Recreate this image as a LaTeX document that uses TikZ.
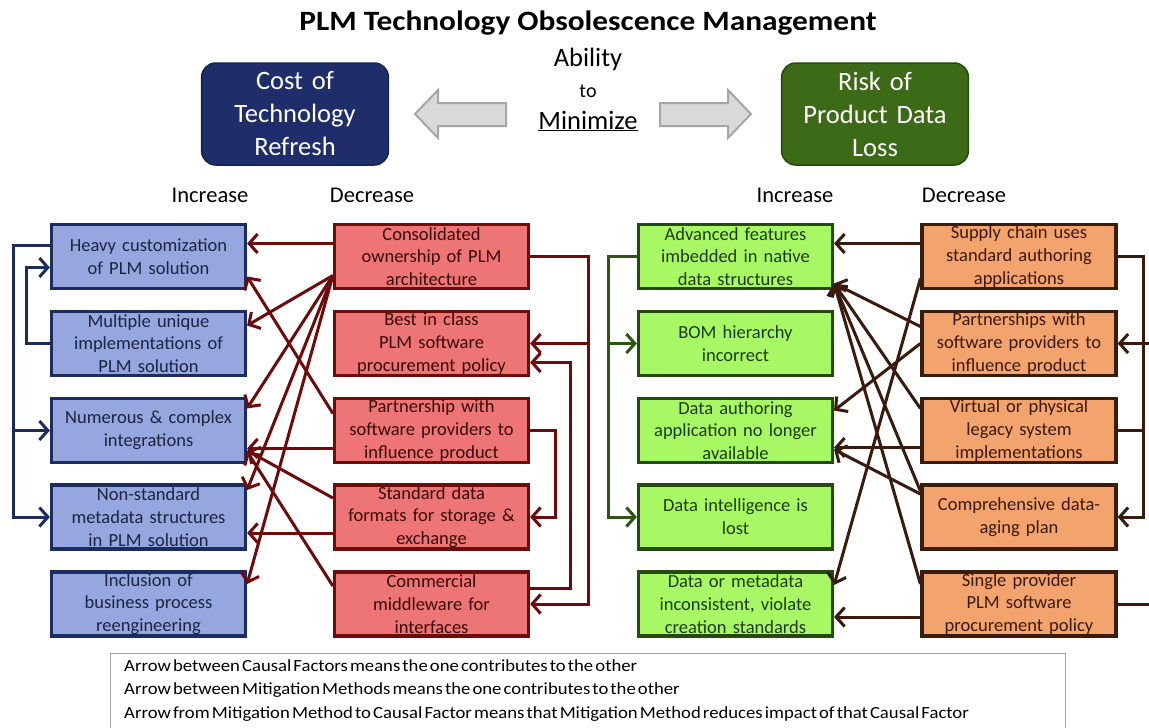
\documentclass[tikz,border=0pt]{standalone}
\usepackage{fontspec}
\setmainfont{Carlito}
\newfontfamily\legendfont[WordSpace=0.5]{Carlito}
\usetikzlibrary{arrows.meta,calc}

\definecolor{navyFill}{HTML}{1F2D6B}
\definecolor{navyEdge}{HTML}{17214F}
\definecolor{oliveFill}{HTML}{3C6A16}
\definecolor{oliveEdge}{HTML}{284A0E}
\definecolor{blueFill}{HTML}{96A7DF}
\definecolor{blueEdge}{HTML}{1C2C5E}
\definecolor{blueText}{HTML}{1C2440}
\definecolor{redFill}{HTML}{EE7575}
\definecolor{redEdge}{HTML}{6E0B0B}
\definecolor{redText}{HTML}{3A0808}
\definecolor{limeFill}{HTML}{A8F865}
\definecolor{limeEdge}{HTML}{244A10}
\definecolor{limeText}{HTML}{1E3A0A}
\definecolor{orangeFill}{HTML}{F3A36E}
\definecolor{orangeEdge}{HTML}{3A1C0C}
\definecolor{orangeText}{HTML}{3A1A0A}
\definecolor{maroon}{HTML}{6E0A0A}
\definecolor{brown}{HTML}{3A1A0C}
\definecolor{blueLoop}{HTML}{1C2C5E}
\definecolor{greenLoop}{HTML}{2C5614}
\definecolor{blockFill}{HTML}{D9D9D9}
\definecolor{blockEdge}{HTML}{A6A6A6}

\begin{document}
\begin{tikzpicture}[x=1pt,y=-1pt,
  factor/.style={draw, line width=3.2pt, minimum width=194pt, minimum height=64pt,
    text width=192pt, align=center, inner sep=0pt,
    font=\fontsize{18.5}{22.8}\selectfont},
  cause/.style={factor, fill=blueFill, draw=blueEdge, text=blueText},
  remedy/.style={factor, fill=redFill, draw=redEdge, text=redText},
  risk/.style={factor, fill=limeFill, draw=limeEdge, text=limeText},
  guard/.style={factor, fill=orangeFill, draw=orangeEdge, text=orangeText},
  headbox/.style={rounded corners=14pt, line width=1.5pt, minimum width=186pt,
    minimum height=102pt, text width=180pt, align=center, text=white,
    font=\fontsize{26.5}{33}\selectfont},
  tipstyle/.tip={Straight Barb[length=8.5pt,width=19pt]},
  link/.style={line width=3pt, -{tipstyle}},
  plain/.style={line width=3pt},
  colhead/.style={font=\fontsize{22.5}{26}\selectfont},
  block/.style={fill=blockFill, draw=blockEdge, line width=2pt, line join=miter}
]
\useasboundingbox (0,0) rectangle (1149,728);

% ---------- title and header boxes ----------
\node[font=\bfseries\fontsize{28}{32}\selectfont] (title) at (588,23)
  {\scalebox{1.12}[1]{PLM Technology Obsolescence Management}};
\node[headbox, fill=navyFill, draw=navyEdge] (cost) at (295,114)
  {Cost of\\Technology\\Refresh};
\node[headbox, fill=oliveFill, draw=oliveEdge] (risk) at (875,114)
  {Risk of\\Product Data\\Loss};
\node[font=\fontsize{26.5}{30}\selectfont] (ability) at (588,59) {Ability};
\node[font=\fontsize{20}{24}\selectfont] (to) at (588,91) {to};
\node[font=\fontsize{26.5}{30}\selectfont] (minimize) at (588,121) {\underline{Minimize}};

% block arrows pointing at the two header boxes
\draw[block] (415,114) -- (438,90) -- (438,103) -- (506,103) -- (506,126)
  -- (438,126) -- (438,138) -- cycle;
\draw[block] (751,114) -- (728,90) -- (728,103) -- (660,103) -- (660,126)
  -- (728,126) -- (728,138) -- cycle;

% column headings
\node[colhead] (incL) at (210,195) {Increase};
\node[colhead] (decL) at (372,195) {Decrease};
\node[colhead] (incR) at (795,195) {Increase};
\node[colhead] (decR) at (964,195) {Decrease};

% ---------- causal factors: cost of technology refresh ----------
\node[cause] (b1) at (148.5,256.5) {Heavy customization\\of PLM solution};
\node[cause] (b2) at (148.5,343.5) {Multiple unique\\implementations of\\PLM solution};
\node[cause] (b3) at (148.5,430.5) {Numerous \& complex\\integrations};
\node[cause] (b4) at (148.5,517) {Non-standard\\metadata structures\\in PLM solution};
\node[cause] (b5) at (148.5,604) {Inclusion of\\business process\\reengineering};

% ---------- mitigation methods: cost of technology refresh ----------
\node[remedy] (r1) at (431.5,256.5) {Consolidated\\ownership of PLM\\architecture};
\node[remedy] (r2) at (431.5,343.5) {Best in class\\PLM software\\procurement policy};
\node[remedy] (r3) at (431.5,430.5) {Partnership with\\software providers to\\influence product};
\node[remedy] (r4) at (431.5,517) {Standard data\\formats for storage \&\\exchange};
\node[remedy] (r5) at (431.5,604) {Commercial\\middleware for\\interfaces};

% ---------- causal factors: risk of product data loss ----------
\node[risk] (g1) at (735.5,256.5) {Advanced features\\imbedded in native\\data structures};
\node[risk] (g2) at (735.5,343.5) {BOM hierarchy\\incorrect};
\node[risk] (g3) at (735.5,430.5) {Data authoring\\application no longer\\available};
\node[risk] (g4) at (735.5,517) {Data intelligence is\\lost};
\node[risk] (g5) at (735.5,604) {Data or metadata\\inconsistent, violate\\creation standards};

% ---------- mitigation methods: risk of product data loss ----------
\node[guard] (o1) at (1019,256.5) {Supply chain uses\\standard authoring\\applications};
\node[guard] (o2) at (1019,343.5) {Partnerships with\\software providers to\\influence product};
\node[guard] (o3) at (1019,430.5) {Virtual or physical\\legacy system\\implementations};
\node[guard] (o4) at (1019,517) {Comprehensive data-\\aging plan};
\node[guard] (o5) at (1019,604) {Single provider\\PLM software\\procurement policy};

% ---------- bus lines for the side loops ----------
\coordinate (bbusA) at (13,0);
\coordinate (bbusB) at (26,0);
\coordinate (rbusA) at (588,0);
\coordinate (rbusB) at (570,0);
\coordinate (rbusC) at (555,0);
\coordinate (gbus)  at (608,0);
\coordinate (obusA) at (1143,0);
\coordinate (obusB) at (1157,0);

% causal factors feeding each other (blue)
\begin{scope}[color=blueLoop]
  \coordinate (b1out) at ($(b1.west)+(0,-11)$);
  \coordinate (b1in)  at ($(b1.west)+(0,11)$);
  \draw[link] (b1out) -| (bbusA |- b4.west) -- (b4.west);
  \draw[link] (bbusA |- b3.west) -- (b3.west);
  \draw[link] (b2.west) -| (bbusB |- b1in) -- (b1in);
\end{scope}

% mitigation methods feeding each other (maroon)
\begin{scope}[color=maroon]
  \coordinate (r2in) at ($(r2.east)+(0,19)$);
  \coordinate (r5out) at ($(r5.east)+(0,-16)$);
  \draw[link] (r1.east) -| (rbusA |- r5.east) -- (r5.east);
  \draw[link] (rbusA |- r2.east) -- (r2.east);
  \draw[link] (r5out) -| (rbusB |- r2in) -- (r2in);
  \draw[link] (r3.east) -| (rbusC |- r4.east) -- (r4.east);
\end{scope}

% mitigation methods acting on causal factors (maroon)
\begin{scope}[color=maroon]
  \coordinate (r1fan) at ($(r1.west)+(0,19)$);
  \draw[link] ($(r1.west)+(0,-13)$) -- ($(b1.east)+(0,-13)$);
  \draw[link] (r1fan) -- ($(b2.east)+(0,-18)$);
  \draw[link] (r1fan) -- ($(b3.east)+(0,-22)$);
  \draw[link] (r1fan) -- ($(b4.east)+(0,-27)$);
  \draw[link] (r1fan) -- ($(b5.east)+(0,-20)$);
  \draw[link] ($(r3.west)+(0,-17)$) -- ($(b1.east)+(0,20)$);
  \draw[link] ($(r3.west)+(0,18)$) -- ($(b3.east)+(0,18)$);
  \draw[link] ($(r4.west)+(0,-19)$) -- ($(b3.east)+(0,20)$);
  \draw[link] ($(r5.west)+(0,-18)$) -- ($(b3.east)+(0,21)$);
  \draw[link] ($(r4.west)+(0,16)$) -- ($(b4.east)+(0,16)$);
\end{scope}

% causal factors feeding each other (green)
\begin{scope}[color=greenLoop]
  \draw[link] (g1.west) -| (gbus |- g4.west) -- (g4.west);
  \draw[link] (gbus |- g2.west) -- (g2.west);
\end{scope}

% mitigation methods feeding each other (brown)
\begin{scope}[color=brown]
  \draw[link] (o1.east) -| (obusA |- o4.east) -- (o4.east);
  \draw[plain] (o3.east) -- (obusA |- o3.east);
  \draw[link] (o5.east) -| (obusB |- o2.east) -- (o2.east);
\end{scope}

% mitigation methods acting on causal factors (brown)
\begin{scope}[color=brown]
  \coordinate (g1hub) at ($(g1.east)+(0,27)$);
  \draw[link] ($(o1.west)+(0,-13)$) -- ($(g1.east)+(0,-13)$);
  \draw[link] ($(o1.west)+(0,22)$) -- ($(g5.east)+(0,-19)$);
  \draw[link] ($(o2.west)+(0,-17)$) -- (g1hub);
  \draw[link] ($(o3.west)+(0,-22)$) -- (g1hub);
  \draw[link] ($(o4.west)+(0,-26)$) -- (g1hub);
  \draw[link] ($(o5.west)+(0,-20)$) -- (g1hub);
  \draw[link] (o2.west) -- ($(g3.east)+(0,-20)$);
  \draw[link] ($(o3.west)+(0,17)$) -- ($(g3.east)+(0,17)$);
  \draw[link] ($(o4.west)+(0,-23)$) -- ($(g3.east)+(0,19)$);
  \draw[link] ($(o5.west)+(0,13)$) -- ($(g5.east)+(0,13)$);
\end{scope}

% ---------- legend ----------
\node[draw=blockEdge, fill=white, line width=1.2pt, anchor=north west,
  minimum width=955pt, minimum height=100pt, inner sep=0pt] (legend) at (110,653) {};
\node[anchor=north west, align=left, inner sep=0pt,
  font=\legendfont\fontsize{17}{23.5}\selectfont] (legendtext) at (124,659)
  {\scalebox{1.1}[1]{Arrow between Causal Factors means the one contributes to the other}\\
   \scalebox{1.1}[1]{Arrow between Mitigation Methods means the one contributes to the other}\\
   \scalebox{1.1}[1]{Arrow from Mitigation Method to Causal Factor means that Mitigation Method reduces impact of that Causal Factor}};
\end{tikzpicture}
\end{document}
